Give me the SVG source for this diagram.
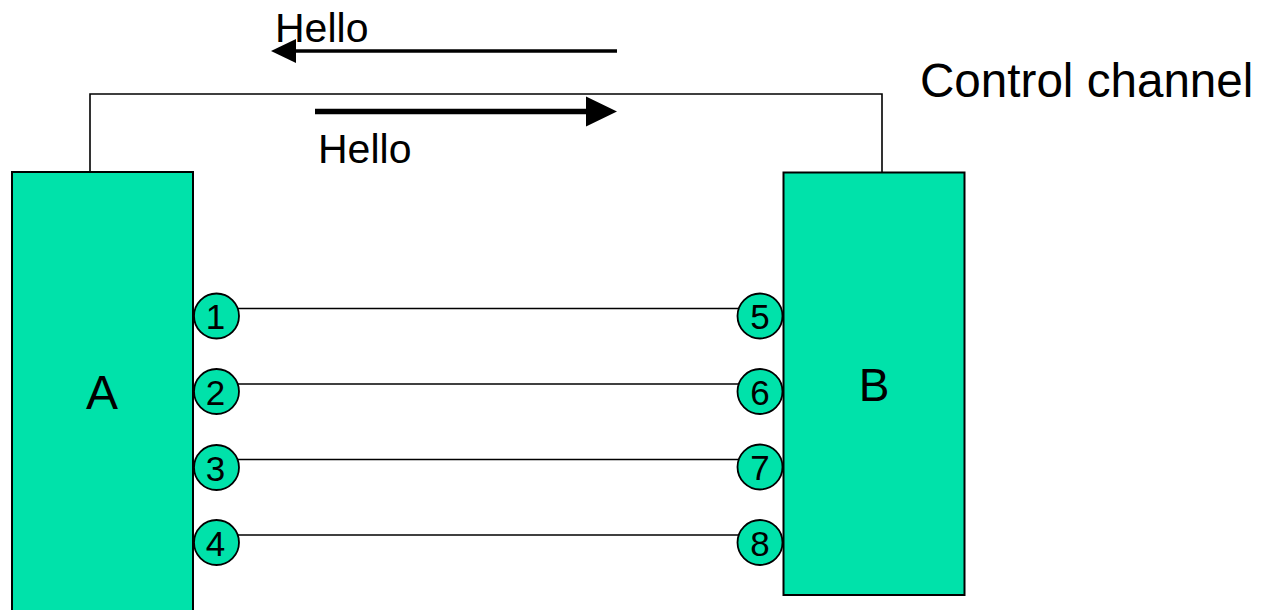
<svg xmlns="http://www.w3.org/2000/svg" width="1261" height="610" viewBox="0 0 1261 610">
  <style>
    .box { fill: #00E2AA; stroke: #000; stroke-width: 2; }
    .port { fill: #00E2AA; stroke: #000; stroke-width: 1.8; }
    .wire { fill: none; stroke: #000; stroke-width: 1.6; }
    .lbl { font-family: "Liberation Sans", Arial, sans-serif; fill: #000; }
    .num { font-family: "Liberation Sans", Arial, sans-serif; font-size: 35px; text-anchor: middle; fill: #000; }
  </style>
  <rect width="1261" height="610" fill="#fff"/>

  <!-- control channel and data links -->
  <g id="connectors">
    <polyline class="wire" points="90,172 90,94 882,94 882,172"/>
    <line class="wire" x1="216" y1="308.5" x2="760" y2="308.5"/>
    <line class="wire" x1="216" y1="384" x2="760" y2="384"/>
    <line class="wire" x1="216" y1="459.5" x2="760" y2="459.5"/>
    <line class="wire" x1="216" y1="535" x2="760" y2="535"/>
    <!-- hello messages -->
    <line x1="617" y1="51" x2="292" y2="51" stroke="#000" stroke-width="3.4"/>
    <polygon points="271,51 296,39 296,63" fill="#000"/>
    <line x1="315" y1="111.5" x2="590" y2="111.5" stroke="#000" stroke-width="5.5"/>
    <polygon points="617,111.5 586,96.5 586,126.5" fill="#000"/>
  </g>

  <text class="lbl" x="275" y="42" font-size="41">Hello</text>
  <text class="lbl" x="318" y="163" font-size="41">Hello</text>
  <text class="lbl" x="920" y="97" font-size="47.6">Control channel</text>

  <g id="nodeA">
    <rect class="box" x="12" y="172" width="181" height="445"/>
    <text class="lbl" x="102" y="409" font-size="48" text-anchor="middle">A</text>
  </g>
  <g id="nodeB">
    <rect class="box" x="783.5" y="172.5" width="181" height="422.5"/>
    <text class="lbl" x="874" y="401" font-size="46" text-anchor="middle">B</text>
  </g>

  <g id="port1"><circle class="port" cx="216.5" cy="316" r="22.5"/><text class="num" x="215.5" y="329">1</text></g>
  <g id="port2"><circle class="port" cx="216.5" cy="391.5" r="22.5"/><text class="num" x="215.5" y="404.5">2</text></g>
  <g id="port3"><circle class="port" cx="216.5" cy="467.5" r="22.5"/><text class="num" x="215.5" y="480.5">3</text></g>
  <g id="port4"><circle class="port" cx="216.5" cy="542.5" r="22.5"/><text class="num" x="215.5" y="555.5">4</text></g>

  <g id="port5"><circle class="port" cx="760" cy="316" r="22.5"/><text class="num" x="760" y="329">5</text></g>
  <g id="port6"><circle class="port" cx="760" cy="391.5" r="22.5"/><text class="num" x="760" y="404.5">6</text></g>
  <g id="port7"><circle class="port" cx="760" cy="467" r="22.5"/><text class="num" x="760" y="480">7</text></g>
  <g id="port8"><circle class="port" cx="760" cy="542.5" r="22.5"/><text class="num" x="760" y="555.5">8</text></g>
</svg>
